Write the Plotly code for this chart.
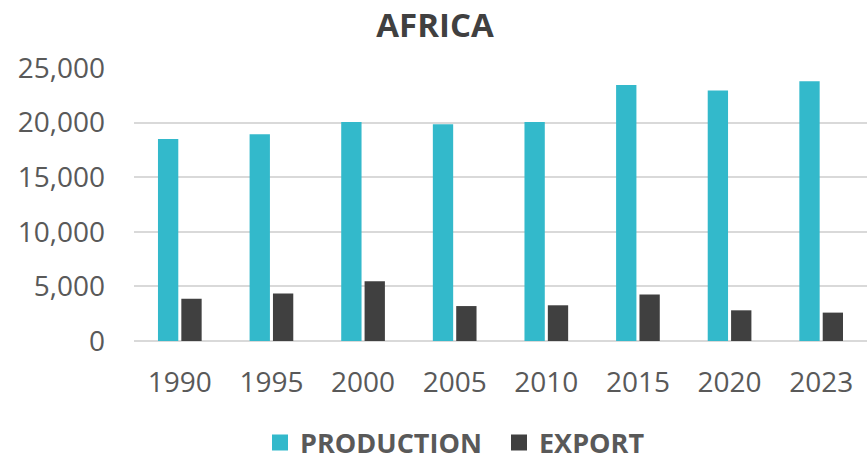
import plotly.graph_objects as go

years = ["1990", "1995", "2000", "2005", "2010", "2015", "2020", "2023"]
production = [18500, 18930, 20050, 19840, 20050, 23440, 22930, 23780]
export = [3880, 4340, 5470, 3200, 3270, 4250, 2810, 2600]
y_ticks = [0, 5000, 10000, 15000, 20000, 25000]
y_tick_labels = ["0", "5,000", "10,000", "15,000", "20,000", "25,000"]

TEAL = "#33B9CB"
DARK = "#404040"
TXT = "#595959"
FONT = "Open Sans"

fig = go.Figure()
fig.add_trace(go.Bar(x=years, y=production, name="PRODUCTION", marker_color=TEAL,
                     marker_line_width=0, showlegend=False))
fig.add_trace(go.Bar(x=years, y=export, name="EXPORT", marker_color=DARK,
                     marker_line_width=0, showlegend=False))
# legend entries with larger square symbols
fig.add_trace(go.Scatter(x=[None], y=[None], mode="markers", name="PRODUCTION",
                         marker=dict(symbol="square", size=18, color=TEAL)))
fig.add_trace(go.Scatter(x=[None], y=[None], mode="markers", name="EXPORT",
                         marker=dict(symbol="square", size=18, color=DARK)))

fig.update_layout(
    width=867, height=457,
    margin=dict(l=134, r=0, t=68, b=116, autoexpand=False),
    paper_bgcolor="white", plot_bgcolor="white",
    barmode="group", bargap=0.49, bargroupgap=0.13,
    title=dict(text="<b>AFRICA</b>", x=435/867, xanchor="center", xref="container",
               y=1 - 25/457, yanchor="middle", yref="container",
               font=dict(family=FONT, size=33, color=DARK)),
    font=dict(family=FONT, color=TXT),
    legend=dict(orientation="h", x=(260 - 134) / 733, xanchor="left", xref="paper",
                y=-(443 - 341) / 273, yanchor="middle", yref="paper",
                font=dict(family=FONT, size=27, color=TXT, weight="bold"),
                entrywidth=194, itemsizing="trace"),
    showlegend=True,
)
fig.update_xaxes(type="category", showgrid=False, showline=False, zeroline=False,
                 automargin=False,
                 tickfont=dict(size=28, color=TXT), ticks="", ticklabelstandoff=22)
fig.update_yaxes(range=[0, 25000], tickvals=y_ticks, ticktext=y_tick_labels,
                 automargin=False,
                 showgrid=True, gridcolor="#D9D9D9", gridwidth=2,
                 zeroline=True, zerolinecolor="#D9D9D9", zerolinewidth=2,
                 showline=False, ticks="", tickfont=dict(size=28, color=TXT),
                 ticklabelstandoff=28)

fig.write_html("out.html", config={"displayModeBar": False},
               post_script="document.body.style.margin='0';document.body.style.overflow='hidden';")
